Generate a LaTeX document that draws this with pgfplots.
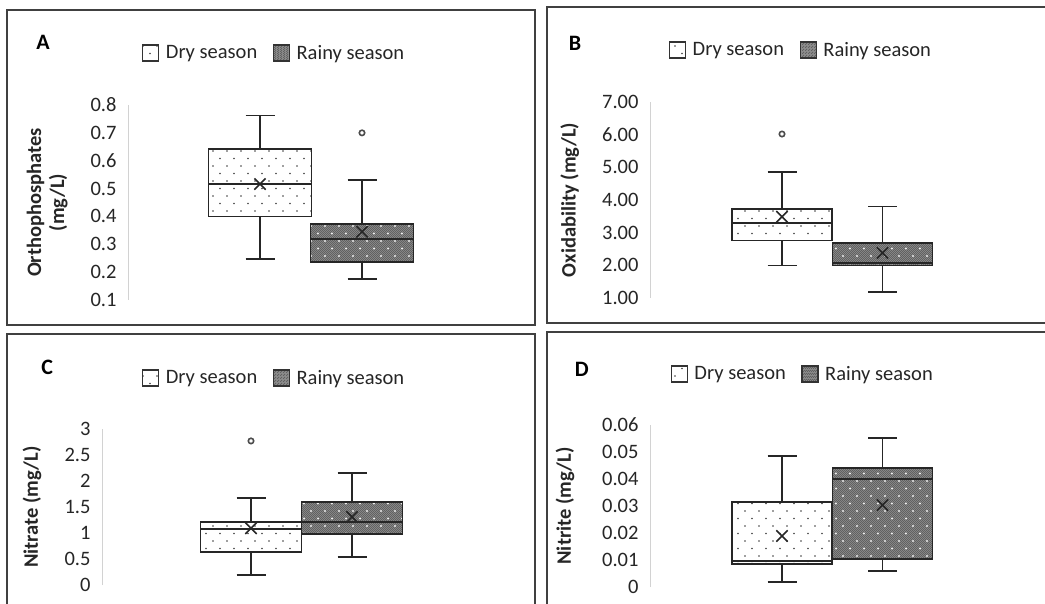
\documentclass[border=0pt]{standalone}
\usepackage{pgfplots}
\pgfplotsset{compat=1.18}
\usepgfplotslibrary{statistics}
\usetikzlibrary{patterns}
\usepackage{fontspec}
\setmainfont{Carlito}

\pgfdeclarepatternformonly{drydots}{\pgfpoint{-1bp}{-1bp}}{\pgfpoint{15bp}{16bp}}{\pgfpoint{14bp}{15bp}}{%
  \pgfpathcircle{\pgfpoint{3bp}{3bp}}{0.9bp}%
  \pgfpathcircle{\pgfpoint{10bp}{10.5bp}}{0.9bp}%
  \pgfusepath{fill}}
\pgfdeclarepatternformonly{wetdots}{\pgfpoint{-1bp}{-1bp}}{\pgfpoint{15bp}{16bp}}{\pgfpoint{14bp}{15bp}}{%
  \pgfpathcircle{\pgfpoint{3bp}{3bp}}{1.1bp}%
  \pgfpathcircle{\pgfpoint{10bp}{10.5bp}}{1.1bp}%
  \pgfusepath{fill}}
\pgfdeclarepatternformonly{checker}{\pgfpoint{0bp}{0bp}}{\pgfpoint{2.4bp}{2.4bp}}{\pgfpoint{2.4bp}{2.4bp}}{%
  \pgfpathrectangle{\pgfpoint{0bp}{0bp}}{\pgfpoint{1.2bp}{1.2bp}}%
  \pgfpathrectangle{\pgfpoint{1.2bp}{1.2bp}}{\pgfpoint{1.2bp}{1.2bp}}%
  \pgfusepath{fill}}

\newcommand{\fs}{\fontsize{20.5bp}{23bp}\selectfont}

\pgfplotsset{
  panel/.style={
    scale only axis, width=366bp, xmin=0, xmax=366, clip=false,
    axis x line=none, axis y line*=left,
    y axis line style={draw=gray!35, line width=1bp},
    major tick length=0pt, ytick style={draw=none},
    scaled y ticks=false,
    /pgf/number format/assume math mode=true,
    tick label style={font=\fs, text=black!85},
    yticklabel style={anchor=east, xshift=-8bp},
    label style={font=\bfseries\fs, text=black!85},
    legend style={draw=none, fill=none, font=\fs, text=black!85, legend columns=2,
      inner sep=0pt, nodes={inner sep=2.5bp},
      /tikz/every odd column/.append style={column sep=4bp},
      /tikz/every even column/.append style={column sep=13bp}},
    legend cell align=left,
    boxplot/draw direction=y,
  },
  drybox/.style={boxplot/draw direction=y, draw=black!85, line width=1.6bp, solid,
    mark=o, mark size=2.7bp, mark options={draw=black!70, line width=1.6bp, fill=gray!25},
    boxplot/every box/.style={fill=white, postaction={pattern=drydots, pattern color=black!75}},
    boxplot/every median/.style={line width=1.9bp},
    boxplot/every average/.style={/tikz/mark=x, /tikz/mark size=8bp, /tikz/mark options={draw=black!80, line width=2bp}},
  },
  rainybox/.style={boxplot/draw direction=y, draw=black!85, line width=1.6bp, solid,
    mark=o, mark size=2.7bp, mark options={draw=black!70, line width=1.6bp, fill=gray!25},
    boxplot/every box/.style={fill=black!45, postaction={pattern=checker, pattern color=black!62}, postaction={pattern=wetdots, pattern color=white!92!black}},
    boxplot/every median/.style={line width=1.9bp},
    boxplot/every average/.style={/tikz/mark=x, /tikz/mark size=8bp, /tikz/mark options={draw=black!85, line width=2bp}},
  },
  drylegend/.style={legend image code/.code={\draw[line width=1.3bp, draw=black!80, fill=white, postaction={pattern=drydots, pattern color=black!75}] (0bp,-8bp) rectangle (16bp,8bp);}},
  rainylegend/.style={legend image code/.code={\draw[line width=1.3bp, draw=black!80, fill=black!45, postaction={pattern=checker, pattern color=black!62}] (0bp,-8bp) rectangle (16bp,8bp);}},
}

\begin{document}
\begin{tikzpicture}
\useasboundingbox (0,0) rectangle (1045bp,604bp);
\fill[white] (0,0) rectangle (1045bp,604bp);
% panel frames
\draw[line width=1.8bp, black!75] (7bp,594bp) rectangle (535bp,279bp);
\draw[line width=1.8bp, black!75] (1060bp,597bp) -- (547bp,597bp) -- (547bp,281bp) -- (1060bp,281bp);
\draw[line width=1.8bp, black!75] (7bp,-10bp) -- (7bp,270bp) -- (535bp,270bp) -- (535bp,-10bp);
\draw[line width=1.8bp, black!75] (1060bp,272bp) -- (547bp,272bp) -- (547bp,-10bp);

% ---------------- A ----------------
\begin{axis}[panel, at={(128bp,304bp)}, anchor=south west, height=195bp,
  ymin=0.1, ymax=0.8, ytick={0.1,0.2,0.3,0.4,0.5,0.6,0.7,0.8},
  yticklabel style={/pgf/number format/.cd, fixed, fixed zerofill, precision=1},
  ylabel={Orthophosphates\\(mg/L)},
  ylabel style={at={(axis description cs:-0.221,0.5)}, anchor=center, align=center},
  legend style={at={(axis description cs:0.40,1.267)}, anchor=center}]
\addlegendimage{drylegend}\addlegendentry{Dry season}
\addlegendimage{rainylegend}\addlegendentry{Rainy season}
\addplot[drybox, forget plot, boxplot prepared={lower whisker=0.247, lower quartile=0.40, median=0.516, upper quartile=0.642, upper whisker=0.762, average=0.516, draw position=132, box extend=103, whisker extend=29}] coordinates {};
\addplot[rainybox, forget plot, boxplot prepared={lower whisker=0.175, lower quartile=0.237, median=0.318, upper quartile=0.373, upper whisker=0.531, average=0.345, draw position=234, box extend=103, whisker extend=29}] table[row sep=\\, y index=0] {y\\ 0.70\\};
\node[font=\bfseries\fontsize{22bp}{26bp}\selectfont] at (axis description cs:-0.232,1.323) {A};
\end{axis}

% ---------------- B ----------------
\begin{axis}[panel, at={(650bp,306bp)}, anchor=south west, height=196bp,
  ymin=1, ymax=7, ytick={1,2,3,4,5,6,7},
  yticklabel style={/pgf/number format/.cd, fixed, fixed zerofill, precision=2},
  ylabel={Oxidability (mg/L)},
  ylabel style={at={(axis description cs:-0.219,0.5)}, anchor=center},
  legend style={at={(axis description cs:0.413,1.265)}, anchor=center}]
\addlegendimage{drylegend}\addlegendentry{Dry season}
\addlegendimage{rainylegend}\addlegendentry{Rainy season}
\addplot[drybox, forget plot, boxplot prepared={lower whisker=1.99, lower quartile=2.76, median=3.30, upper quartile=3.73, upper whisker=4.86, average=3.49, draw position=132, box extend=100, whisker extend=29}] table[row sep=\\, y index=0] {y\\ 6.02\\};
\addplot[rainybox, forget plot, boxplot prepared={lower whisker=1.18, lower quartile=1.99, median=2.08, upper quartile=2.69, upper whisker=3.80, average=2.38, draw position=232.5, box extend=100, whisker extend=29}] coordinates {};
\node[font=\bfseries\fontsize{22bp}{26bp}\selectfont] at (axis description cs:-0.205,1.301) {B};
\end{axis}

% ---------------- C ----------------
\begin{axis}[panel, at={(102bp,19bp)}, anchor=south west, height=156bp,
  ymin=0, ymax=3, ytick={0,0.5,1,1.5,2,2.5,3},
  yticklabel style={/pgf/number format/.cd, fixed, precision=1},
  ylabel={Nitrate (mg/L)},
  ylabel style={at={(axis description cs:-0.191,0.5)}, anchor=center},
  legend style={at={(axis description cs:0.471,1.327)}, anchor=center}]
\addlegendimage{drylegend}\addlegendentry{Dry season}
\addlegendimage{rainylegend}\addlegendentry{Rainy season}
\addplot[drybox, forget plot, boxplot prepared={lower whisker=0.19, lower quartile=0.63, median=1.08, upper quartile=1.21, upper whisker=1.67, average=1.09, draw position=149, box extend=101, whisker extend=29}] table[row sep=\\, y index=0] {y\\ 2.77\\};
\addplot[rainybox, forget plot, boxplot prepared={lower whisker=0.54, lower quartile=0.98, median=1.21, upper quartile=1.60, upper whisker=2.15, average=1.31, draw position=250, box extend=101, whisker extend=29}] coordinates {};
\node[font=\bfseries\fontsize{22bp}{26bp}\selectfont] at (axis description cs:-0.150,1.397) {C};
\end{axis}

% ---------------- D ----------------
\begin{axis}[panel, at={(650bp,17bp)}, anchor=south west, height=162bp,
  ymin=0, ymax=0.06, ytick={0,0.01,0.02,0.03,0.04,0.05,0.06},
  yticklabel style={/pgf/number format/.cd, fixed, precision=2},
  ylabel={Nitrite (mg/L)},
  ylabel style={at={(axis description cs:-0.232,0.5)}, anchor=center},
  legend style={at={(axis description cs:0.418,1.315)}, anchor=center}]
\addlegendimage{drylegend}\addlegendentry{Dry season}
\addlegendimage{rainylegend}\addlegendentry{Rainy season}
\addplot[drybox, forget plot, boxplot prepared={lower whisker=0.0019, lower quartile=0.0085, median=0.0096, upper quartile=0.0315, upper whisker=0.0485, average=0.0189, draw position=132, box extend=100, whisker extend=29}] coordinates {};
\addplot[rainybox, forget plot, boxplot prepared={lower whisker=0.0059, lower quartile=0.0104, median=0.040, upper quartile=0.044, upper whisker=0.0552, average=0.0304, draw position=232.5, box extend=100, whisker extend=29}] coordinates {};
\node[font=\bfseries\fontsize{22bp}{26bp}\selectfont] at (axis description cs:-0.186,1.346) {D};
\end{axis}
\end{tikzpicture}
\end{document}
